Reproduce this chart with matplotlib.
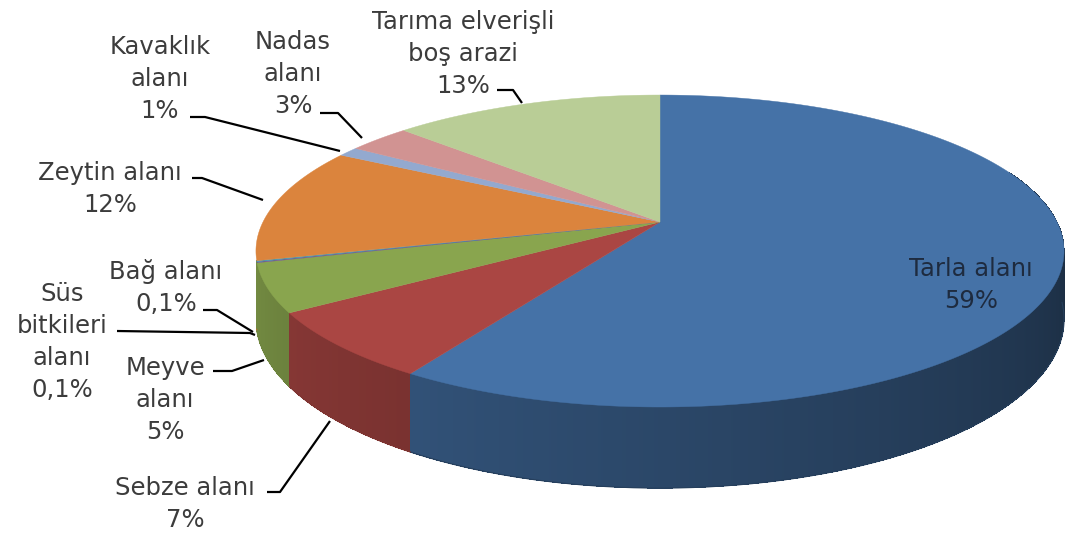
import numpy as np
import matplotlib.pyplot as plt
from matplotlib.patches import Polygon
from matplotlib.collections import PolyCollection
from matplotlib.colors import to_rgb

# land use shares (clockwise from 12 o'clock)
names = ["Tarla alanı", "Sebze alanı", "Meyve\nalanı", "Süs\nbitkileri\nalanı",
         "Bağ alanı", "Zeytin alanı", "Kavaklık\nalanı", "Nadas\nalanı",
         "Tarıma elverişli\nboş arazi"]
values = [59, 7, 5, 0.1, 0.1, 12, 1, 3, 13]
colors = ["#4572A7", "#AA4643", "#89A54E", "#71588F", "#4198AF",
          "#DB843D", "#93A9CF", "#D19392", "#B9CD96"]

# label block centres and leader polylines (pixel layout)
label_pos = [(971, 285), (185, 504), (165, 400), (62, 342), (166, 288),
             (110, 189), (160, 79), (293, 74), (463, 54)]
leaders = [None,
           [(267, 492), (280, 492), (330, 421)],
           [(213, 371), (232, 371), (264, 360)],
           [(117, 331), (250, 333), (255, 335)],
           [(203, 310), (217, 310), (253, 332)],
           [(192, 178), (202, 178), (263, 200)],
           [(190, 117), (205, 117), (340, 151)],
           [(320, 113), (338, 113), (362, 138)],
           [(497, 90), (513, 90), (522, 103)]]

W, H = 1066, 535
X0, Y0 = 660, 222      # apex of the pie
A, B = 397, 150.6      # horizontal / vertical radius
K = 0.186              # perspective
D = 66                 # thickness
LINE = 32

def proj(phi, z=0.0):
    p = np.radians(phi)
    u, v = np.sin(p), np.cos(p)
    w = 1 + K * v
    return X0 + A * u / w, Y0 - B * v / w + z * D / w

def shade(c, f):
    r, g, b = to_rgb(c)
    return (r * f, g * f, b * f)

def wall_f(phi):
    return np.clip(0.4 + (phi - 100) / 160 * 0.45, 0.4, 0.86)

fig = plt.figure(figsize=(W / 100, H / 100), dpi=100)
ax = fig.add_axes([0, 0, 1, 1])
ax.set_xlim(0, W)
ax.set_ylim(H, 0)
ax.axis('off')

total = sum(values)
bounds = np.concatenate([[0], np.cumsum(values)]) / total * 360

# hairline slices disappear into the neighbouring wall
wall_cols = []
for i, col in enumerate(colors):
    if values[i] < 0.5 and i > 0:
        wall_cols.append(wall_cols[-1])
    else:
        wall_cols.append(col)

# side walls, back to front (front part only)
strips = []
for i, col in enumerate(wall_cols):
    a0, a1 = bounds[i], bounds[i + 1]
    n = max(2, int((a1 - a0) / 0.25) + 1)
    ph = np.linspace(a0, a1, n)
    for p0, p1 in zip(ph[:-1], ph[1:]):
        pm = (p0 + p1) / 2
        vm = np.cos(np.radians(pm))
        if vm > 0.35 or pm > 256:
            continue
        quad = [proj(p0), proj(p1), proj(p1, 1), proj(p0, 1)]
        strips.append((vm, quad, shade(col, wall_f(pm))))
strips.sort(key=lambda s: -s[0])
pc = PolyCollection([s[1] for s in strips], facecolors=[s[2] for s in strips],
                    edgecolors='none', antialiased=False)
ax.add_collection(pc)

# smooth the lower rim of the walls
for i, col in enumerate(wall_cols):
    a0, a1 = max(bounds[i], 95), min(bounds[i + 1], 256)
    if a1 <= a0:
        continue
    ph = np.linspace(a0, a1, 200)
    xs, ys = zip(*[proj(p, 1) for p in ph])
    ax.plot(xs, ys, color=shade(col, wall_f((a0 + a1) / 2)), lw=0.8)

# top face
for i, col in enumerate(colors):
    a0, a1 = bounds[i], bounds[i + 1]
    n = max(2, int((a1 - a0) / 0.5) + 1)
    pts = [(X0, Y0)] + [proj(p) for p in np.linspace(a0, a1, n)]
    ax.add_patch(Polygon(pts, closed=True, facecolor=col, edgecolor=col, lw=0.3))

# labels
font = ['DejaVu Sans']
for i, name in enumerate(names):
    v = values[i]
    txt = name + "\n" + (f"{v:g}%").replace(".", ",")
    lines = txt.split("\n")
    cx, cy = label_pos[i]
    top = cy - (len(lines) - 1) * LINE / 2
    tc = '#1e2b3f' if i == 0 else '#3c3c3c'
    for j, ln in enumerate(lines):
        ax.text(cx, top + j * LINE, ln, ha='center', va='center', fontsize=17.5,
                color=tc, family=font)
    if leaders[i]:
        xs, ys = zip(*leaders[i])
        ax.plot(xs, ys, color='black', lw=1.6, solid_capstyle='butt')

fig.savefig('out.png', dpi=100)
